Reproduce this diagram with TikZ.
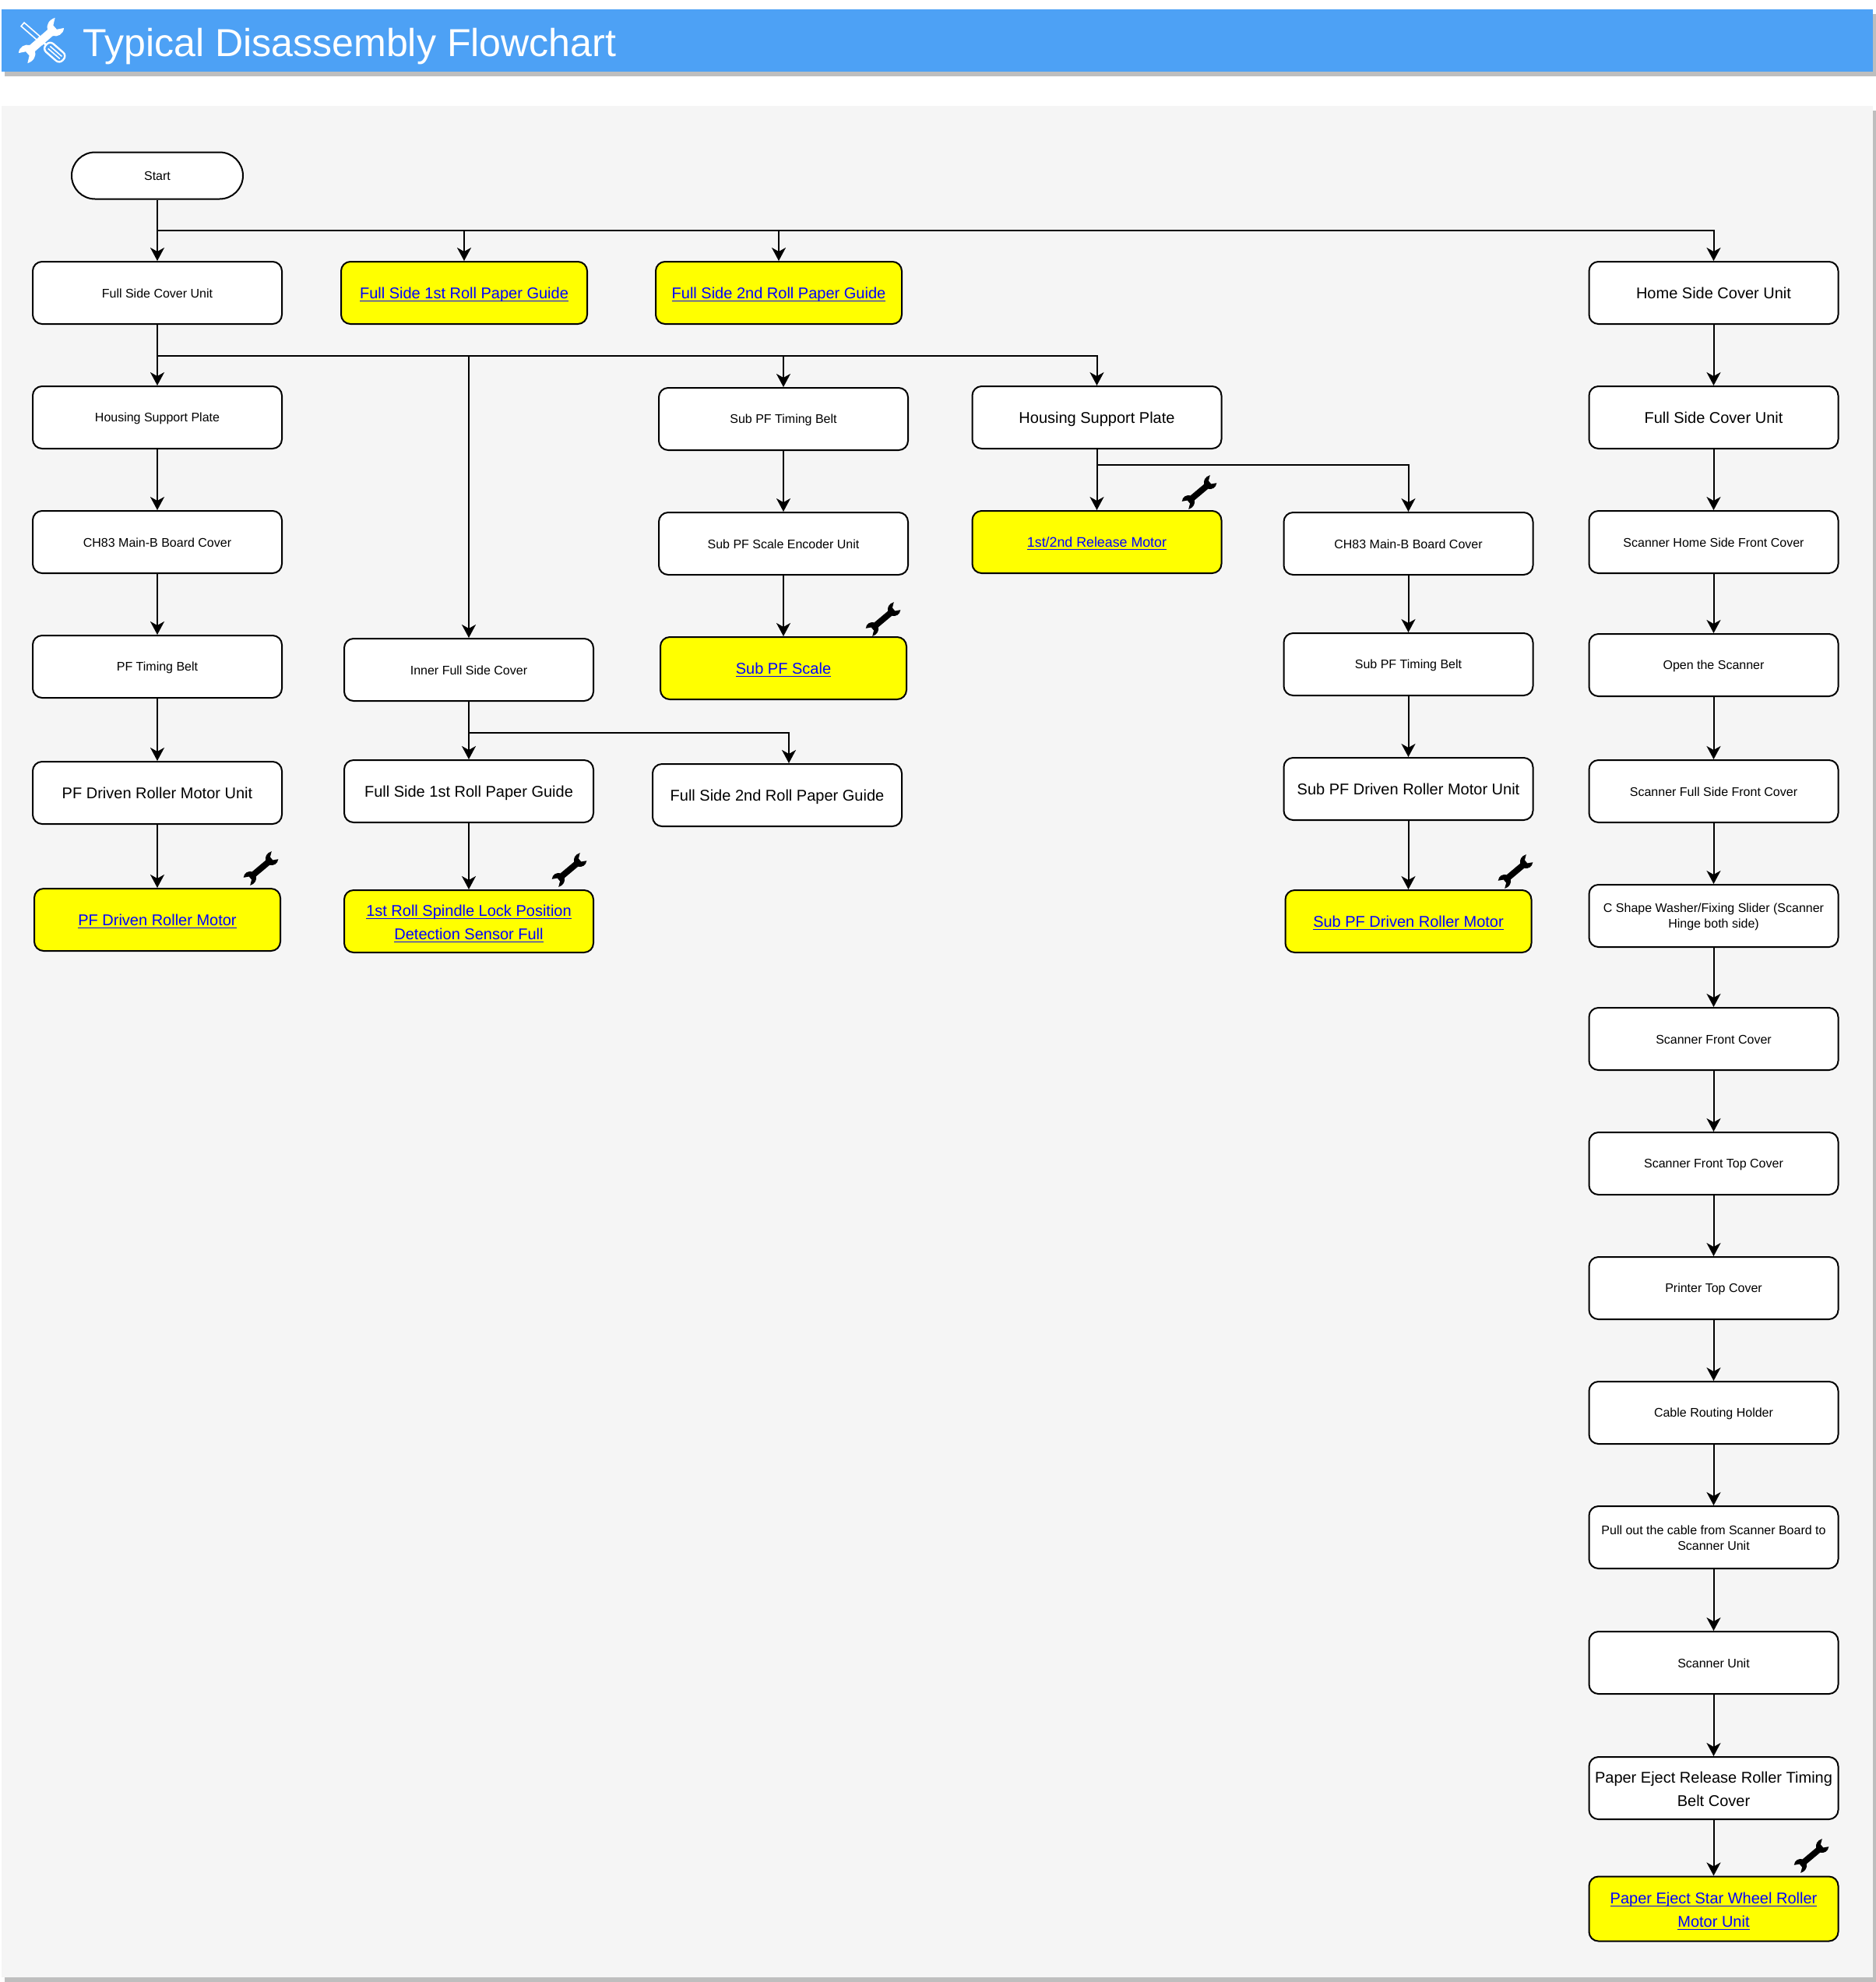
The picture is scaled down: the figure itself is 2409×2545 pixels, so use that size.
\documentclass[tikz,border=0pt]{standalone}
\usepackage{fontspec}
\setmainfont{Liberation Sans}
\usetikzlibrary{arrows.meta}
\definecolor{bannerblue}{HTML}{4DA1F5}
\definecolor{panelgrey}{HTML}{F5F5F5}
\definecolor{shadowgrey}{HTML}{BEBEBE}
\definecolor{partyellow}{HTML}{FFFF00}
\definecolor{linkblue}{HTML}{0000FF}
\newcommand{\lnk}[1]{\leavevmode\setbox0=\hbox{#1}\rlap{\smash{\vrule width\wd0 height-1.1pt depth1.8pt}}\box0}
\begin{document}
\begin{tikzpicture}[x=0.5pt,y=-0.5pt]
   \tikzstyle{terminal} = [rectangle, rounded corners=15pt, minimum width=110pt, minimum height=30pt, text centered, draw=black, line width=1pt, fill=white, font=\fontsize{8}{10}\selectfont]
   \tikzstyle{small} = [rectangle, rounded corners=6pt, minimum width=160pt, minimum height=40pt, inner sep=0pt, align=center, draw=black, line width=1pt, fill=white, font=\fontsize{8}{10}\selectfont, execute at begin node={\rule{0pt}{.95em}}, execute at end node={\rule[-.2em]{0pt}{.2em}}]
   \tikzstyle{large} = [small, font=\fontsize{10}{15}\selectfont]
   \tikzstyle{target} = [large, fill=partyellow, text=linkblue, minimum width=158pt]
   \tikzstyle{twoline} = [execute at begin node={\rule{0pt}{2.55em}}]
   \tikzstyle{twosmall} = [execute at begin node={\rule{0pt}{2.2em}}]
   \tikzstyle{arrow} = [line width=1pt,-{Stealth[length=8.5pt,width=9pt,inset=2.5pt]}]
   \tikzset{wrench/.pic={
      \fill (-13,-4.5) -- (13,-4.5) .. controls (15,-9) and (21,-12) .. (28,-9) -- (21,-4) -- (21,2) -- (28,6) .. controls (23,11) and (16,9) .. (13,4.5) -- (-13,4.5) .. controls (-15,9) and (-21,12) .. (-28,9) -- (-21,4) -- (-21,-2) -- (-28,-6) .. controls (-23,-11) and (-16,-9) .. (-13,-4.5) -- cycle;
   }}
   \useasboundingbox (0,0) rectangle (2409,2545);

   % banner and panel
   \fill [shadowgrey] (6,18) rectangle (2409,98);
   \fill [bannerblue] (2,12) rectangle (2405,92);
   \fill [shadowgrey] (6,142) rectangle (2409,2545);
   \fill [panelgrey] (2,136) rectangle (2405,2539);
   \node (title) [anchor=west, inner sep=0pt, text=white, font=\fontsize{25.05}{30}\selectfont] at (106,60) {Typical Disassembly Flowchart};
   % title icon
   \pic [white, rotate=41, scale=1.16] at (53,52) {wrench};
   \begin{scope}[shift={(54,53)}, rotate=-41]
      \draw [white, line width=0.8pt] (-33,-3) -- (-6,-3) -- (-6,3) -- (-33,3) -- cycle;
      \draw [white, line width=1.2pt, rounded corners=3pt] (7,-7) rectangle (36,7);
      \draw [white, line width=1.4pt] (-6,0) -- (7,0) (-2,-4) -- (3,4) (-2,4) -- (3,-4);
      \draw [white, line width=0.8pt] (12,-2) -- (32,-2) (12,2) -- (32,2);
   \end{scope}

   % left column
   \node (start) [terminal] at (202,225.5) {Start};
   \node (fsc) [small] at (202,376) {Full Side Cover Unit};
   \node (hsp) [small] at (202,536) {Housing Support Plate};
   \node (ch) [small] at (202,696) {CH83 Main-B Board Cover};
   \node (pfb) [small] at (202,856) {PF Timing Belt};
   \node (pfu) [large] at (202,1018) {PF Driven Roller Motor Unit};
   \node (pfm) [target] at (202,1181) {\lnk{PF Driven Roller Motor}};

   % second column
   \node (gd1) [target] at (596,376) {\lnk{Full Side 1st Roll Paper Guide}};
   \node (ifc) [small] at (602,860) {Inner Full Side Cover};
   \node (fs1) [large] at (602,1016) {Full Side 1st Roll Paper Guide};
   \node (spn) [target, twoline, minimum width=160pt] at (602,1183) {\lnk{1st Roll Spindle Lock Position}\\\lnk{Detection Sensor Full}};

   % third column
   \node (gd2) [target] at (1000,376) {\lnk{Full Side 2nd Roll Paper Guide}};
   \node (sbt) [small] at (1006,538) {Sub PF Timing Belt};
   \node (enc) [small] at (1006,698) {Sub PF Scale Encoder Unit};
   \node (scl) [target] at (1006,858) {\lnk{Sub PF Scale}};
   \node (fs2) [large] at (998,1021) {Full Side 2nd Roll Paper Guide};

   % fourth column
   \node (hsm) [large] at (1408.5,536) {Housing Support Plate};
   \node (rel) [target, minimum width=160pt, font=\fontsize{8.9}{10}\selectfont] at (1408.5,696) {\lnk{1st/2nd Release Motor}};

   % fifth column
   \node (chr) [small] at (1808.5,698) {CH83 Main-B Board Cover};
   \node (sbr) [small] at (1808.5,853) {Sub PF Timing Belt};
   \node (sdu) [large] at (1808.5,1013) {Sub PF Driven Roller Motor Unit};
   \node (sdm) [target] at (1808.5,1183) {\lnk{Sub PF Driven Roller Motor}};

   % right column
   \node (hsc) [large] at (2200.5,376) {Home Side Cover Unit};
   \node (fsr) [large] at (2200.5,536) {Full Side Cover Unit};
   \node (shf) [small] at (2200.5,696) {Scanner Home Side Front Cover};
   \node (opn) [small] at (2200.5,854) {Open the Scanner};
   \node (sff) [small] at (2200.5,1016) {Scanner Full Side Front Cover};
   \node (csh) [small, twosmall] at (2200.5,1176) {C Shape Washer/Fixing Slider (Scanner\\Hinge both side)};
   \node (sfc) [small] at (2200.5,1334) {Scanner Front Cover};
   \node (sft) [small] at (2200.5,1494) {Scanner Front Top Cover};
   \node (ptc) [small] at (2200.5,1654) {Printer Top Cover};
   \node (crh) [small] at (2200.5,1814) {Cable Routing Holder};
   \node (pul) [small, twosmall] at (2200.5,1974) {Pull out the cable from Scanner Board to\\Scanner Unit};
   \node (snu) [small] at (2200.5,2135) {Scanner Unit};
   \node (pjc) [large, twoline] at (2200.5,2296) {Paper Eject Release Roller Timing\\Belt Cover};
   \node (pjm) [target, twoline, minimum width=160pt, minimum height=41.5pt] at (2200.5,2451) {\lnk{Paper Eject Star Wheel Roller}\\\lnk{Motor Unit}};

   % branch points
   \coordinate (busa) at (202,296);
   \coordinate (busb) at (202,456.5);
   \coordinate (busc) at (1408.5,597);
   \coordinate (busd) at (602,941);

   \draw [arrow] (start) -- (fsc);
   \draw [arrow] (busa) -| (gd1.north);
   \draw [arrow] (busa) -| (gd2.north);
   \draw [arrow] (busa) -| (hsc.north);

   \draw [arrow] (fsc) -- (hsp);
   \draw [arrow] (hsp) -- (ch);
   \draw [arrow] (ch) -- (pfb);
   \draw [arrow] (pfb) -- (pfu);
   \draw [arrow] (pfu) -- (pfm);

   \draw [arrow] (busb) -| (ifc.north);
   \draw [arrow] (busb) -| (sbt.north);
   \draw [arrow] (busb) -| (hsm.north);

   \draw [arrow] (sbt) -- (enc);
   \draw [arrow] (enc) -- (scl);

   \draw [arrow] (ifc) -- (fs1);
   \draw [arrow] (fs1) -- (spn);
   \draw [arrow] (busd) -| ([xshift=7.5pt]fs2.north);

   \draw [arrow] (hsm) -- (rel);
   \draw [arrow] (busc) -| (chr.north);
   \draw [arrow] (chr) -- (sbr);
   \draw [arrow] (sbr) -- (sdu);
   \draw [arrow] (sdu) -- (sdm);

   \foreach \from/\to in {hsc/fsr,fsr/shf,shf/opn,opn/sff,sff/csh,csh/sfc,sfc/sft,sft/ptc,ptc/crh,crh/pul,pul/snu,snu/pjc,pjc/pjm}
      \draw [arrow] (\from) -- (\to);

   % wrench marks
   \foreach \x/\y in {335/1115,731/1117,1134/795,1540/632,1946/1119,2326/2383}
      \pic [black, rotate=40, scale=0.88] at (\x,\y) {wrench};
\end{tikzpicture}
\end{document}
